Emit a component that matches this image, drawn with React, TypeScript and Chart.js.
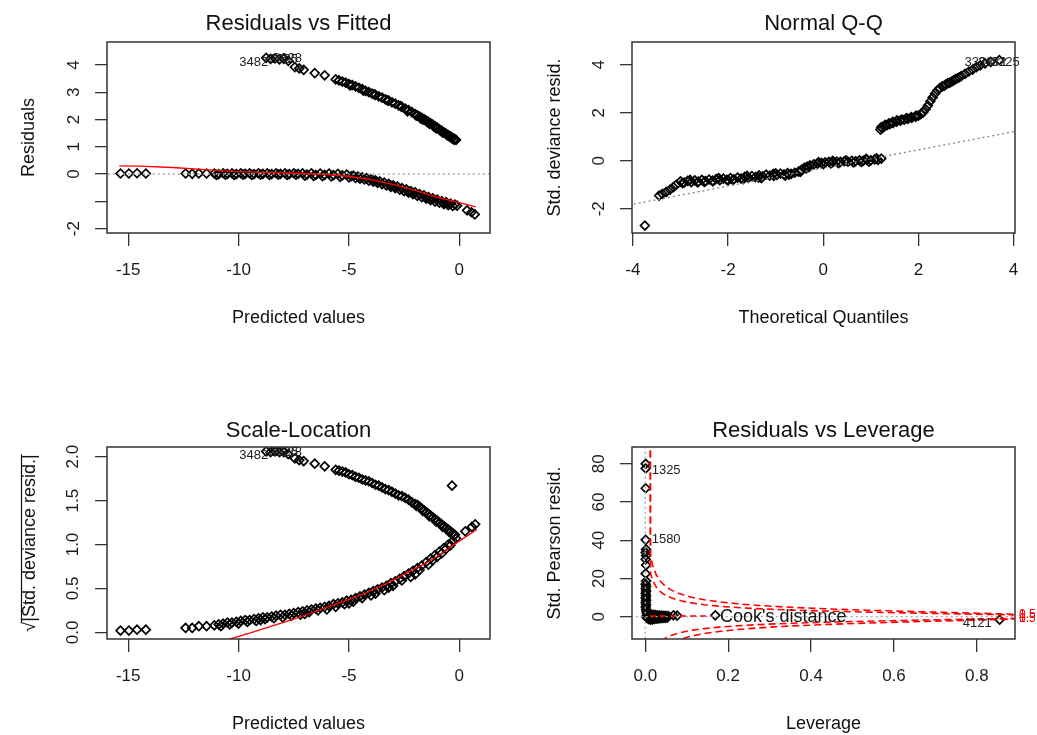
import React, { useEffect, useRef } from 'react';
import { Chart, registerables } from 'chart.js';
Chart.register(...registerables);

const FONT = "'Liberation Sans', Arial, Helvetica, sans-serif";

// ---------------- Panel 1: Residuals vs Fitted ----------------
const rvfUpper: number[][] = [
  [-8.75,4.26],[-8.55,4.22],[-8.35,4.24],[-8.15,4.2],[-7.95,4.22],[-7.75,4.15],[-7.45,3.92],[-7.25,3.87],[-7.05,3.82],
  [-6.55,3.7],[-6.1,3.62],[-5.6,3.47],[-5.45,3.43],[-5.3,3.39],[-5.15,3.35],[-5.0,3.3],[-4.85,3.26],[-4.7,3.21],
  [-4.55,3.16],[-4.4,3.11],[-4.25,3.05],[-4.1,3.0],[-3.95,2.95],[-3.8,2.9],[-3.65,2.85],[-3.5,2.8],[-3.35,2.74],
  [-3.2,2.69],[-3.05,2.63],[-2.9,2.58],[-2.75,2.52],[-2.6,2.46],[-2.45,2.4],[-2.3,2.34],[-2.15,2.27],[-2.0,2.2],
  [-1.9,2.15],[-1.8,2.11],[-1.75,2.04],[-1.7,2.06],[-1.6,2.01],[-1.5,1.96],[-1.45,1.9],[-1.4,1.91],[-1.3,1.86],
  [-1.2,1.81],[-1.15,1.74],[-1.1,1.75],[-1.0,1.7],[-0.9,1.64],[-0.85,1.58],[-0.8,1.59],[-0.7,1.53],[-0.6,1.48],
  [-0.55,1.42],[-0.5,1.43],[-0.4,1.38],[-0.35,1.32],[-0.3,1.33],[-0.25,1.26],[-0.2,1.28],
  [-4.95,3.25],[-4.35,3.06],[-3.85,2.92],[-3.25,2.7],[-2.65,2.49],[-2.35,2.3],[-1.95,2.14],[-1.65,1.99],
  [-1.35,1.84],[-1.05,1.67],[-0.75,1.52],[-0.45,1.37],[-0.15,1.25]
];
const rvfLower: number[][] = [
  [-15.35,0.02],[-14.97,0.02],[-14.6,0.03],[-14.2,0.02],
  [-12.4,0.02],[-12.1,0.01],[-11.8,0.02],[-11.45,0.02],
  [-11.1,0.02],[-10.9,0.0],[-10.7,0.03],[-10.5,0.01],[-10.3,0.03],[-10.1,0.0],[-9.9,0.03],[-9.7,0.01],[-9.5,0.03],
  [-9.3,0.0],[-9.1,0.03],[-8.9,0.01],[-8.7,0.03],[-8.5,0.0],[-8.3,0.03],[-8.1,0.01],[-7.9,0.03],[-7.7,0.0],
  [-7.5,0.03],[-7.3,0.01],[-7.1,0.03],[-6.9,-0.02],[-6.7,0.03],[-6.5,-0.03],[-6.3,0.02],[-6.1,-0.03],[-5.9,0.02],
  [-5.7,-0.04],[-5.5,0.01],[-5.3,-0.05],[-5.1,-0.02],[-4.9,-0.08],
  [-11.0,-0.03],[-10.6,-0.02],[-10.2,-0.03],[-9.8,-0.02],[-9.4,-0.03],[-9.0,-0.02],[-8.6,-0.03],[-8.2,-0.02],
  [-7.8,-0.03],[-7.4,-0.02],[-7.0,-0.06],[-6.6,-0.07],[-6.2,-0.08],[-5.8,-0.09],[-5.4,-0.1],[-5.0,-0.12],
  [-4.8,-0.06],[-4.6,-0.09],[-4.4,-0.12],[-4.2,-0.15],[-4.0,-0.19],[-3.8,-0.23],[-3.6,-0.27],[-3.4,-0.31],
  [-3.2,-0.36],[-3.0,-0.41],[-2.8,-0.46],[-2.6,-0.51],[-2.4,-0.56],[-2.2,-0.62],[-2.0,-0.67],[-1.8,-0.73],
  [-1.6,-0.78],[-1.4,-0.84],[-1.2,-0.89],[-1.0,-0.94],[-0.8,-0.99],[-0.6,-1.03],[-0.4,-1.08],[-0.2,-1.12],
  [-4.7,-0.14],[-4.5,-0.17],[-4.3,-0.2],[-4.1,-0.24],[-3.9,-0.28],[-3.7,-0.32],[-3.5,-0.37],[-3.3,-0.42],
  [-3.1,-0.47],[-2.9,-0.52],[-2.7,-0.57],[-2.5,-0.63],[-2.3,-0.68],[-2.1,-0.74],[-1.9,-0.8],[-1.7,-0.85],
  [-1.5,-0.9],[-1.3,-0.96],[-1.1,-1.01],[-0.9,-1.05],[-0.7,-1.1],[-0.5,-1.14],[-0.3,-1.17],
  [-3.9,-0.24],[-3.1,-0.42],[-2.3,-0.64],[-1.5,-0.86],[-0.7,-1.06],[-0.1,-1.16],
  [-4.55,-0.13],[-3.75,-0.28],[-2.95,-0.47],[-2.15,-0.68],[-1.35,-0.9],[-0.55,-1.09],
  [0.35,-1.33],[0.55,-1.4],[0.7,-1.48]
];
const rvfSmooth: number[][] = [
  [-15.4,0.3],[-14.5,0.29],[-13,0.24],[-11.5,0.16],[-10,0.09],[-8.5,0.05],[-7,0.02],[-6,-0.02],
  [-5,-0.08],[-4,-0.2],[-3,-0.38],[-2,-0.6],[-1,-0.85],[0,-1.05],[0.75,-1.2]
];
const rvfZero: number[][] = [[-20,0],[5,0]];
const rvfXTicks = [-15, -10, -5, 0];
const rvfXTickLabels = ['-15', '-10', '-5', '0'];
const rvfYTicks = [-2, -1, 0, 1, 2, 3, 4];
const rvfYTickLabels = ['-2', '', '0', '1', '2', '3', '4'];

// ---------------- Panel 2: Normal Q-Q ----------------
const qqLower: number[][] = [
  [-3.75,-2.7],
  [-3.45,-1.45],[-3.38,-1.38],[-3.3,-1.3],[-3.22,-1.2],[-3.15,-1.1],[-3.09,-1.0],
  [-3.0,-0.86],[-2.925,-0.91],[-2.85,-0.84],[-2.775,-0.89],[-2.7,-0.82],[-2.625,-0.87],[-2.55,-0.8],[-2.475,-0.85],
  [-2.4,-0.78],[-2.325,-0.83],[-2.25,-0.76],[-2.175,-0.81],[-2.1,-0.74],[-2.025,-0.79],[-1.95,-0.72],[-1.875,-0.77],
  [-1.8,-0.7],[-1.725,-0.74],[-1.65,-0.67],[-1.575,-0.71],[-1.5,-0.64],[-1.425,-0.68],[-1.35,-0.61],[-1.275,-0.65],
  [-1.2,-0.58],[-1.125,-0.62],[-1.05,-0.55],[-0.975,-0.59],[-0.9,-0.53],[-0.825,-0.57],[-0.75,-0.51],[-0.675,-0.55],
  [-0.6,-0.5],[-0.52,-0.45],[-0.46,-0.38],[-0.4,-0.3],[-0.34,-0.24],[-0.28,-0.19],[-0.2,-0.15],[-0.12,-0.12],
  [-0.04,-0.09],[0.04,-0.07],[0.12,-0.05],[0.2,-0.06],[0.28,-0.03],[0.36,-0.05],[0.44,-0.02],[0.52,-0.04],
  [0.6,0.0],[0.68,-0.02],[0.76,0.02],[0.84,0.0],[0.92,0.04],[1.0,0.02],[1.08,0.06],[1.15,0.04],[1.22,0.09],
  [-2.96,-0.93],[-2.64,-0.9],[-2.32,-0.86],[-2.0,-0.82],[-1.68,-0.77],[-1.36,-0.7],[-1.04,-0.63],[-0.72,-0.58],
  [-0.48,-0.46],[-0.3,-0.27],[0.0,-0.14],[0.32,-0.1],[0.64,-0.07],[0.96,-0.04],[-2.8,-0.8],[-2.2,-0.72],
  [-1.6,-0.63],[-1.0,-0.52],[-0.1,-0.06],[0.48,0.02],[1.12,0.1],
  [-2.5,-0.88],[-1.9,-0.8],[-1.3,-0.72],[-0.8,-0.62],[-0.36,-0.32],[0.16,-0.11],[0.8,-0.05],[0.2,0.0],[0.9,0.08]
];
const qqUpper: number[][] = [
  [1.2,1.3],[1.24,1.36],[1.28,1.42],[1.34,1.48],[1.4,1.53],[1.47,1.58],[1.54,1.63],[1.62,1.67],[1.7,1.71],
  [1.78,1.75],[1.86,1.79],[1.94,1.83],[2.0,1.88],[2.05,1.94],[2.1,2.02],[2.15,2.15],[2.2,2.3],[2.25,2.48],
  [2.3,2.64],[2.35,2.8],[2.4,2.94],[2.45,3.03],[2.5,3.1],[2.58,3.18],[2.66,3.26],[2.74,3.35],[2.82,3.44],
  [2.9,3.53],[2.98,3.62],[3.06,3.72],[3.14,3.8],[3.22,3.9],[3.3,3.98],[3.4,4.06],[3.52,4.12],[3.7,4.2],
  [1.22,1.4],[1.3,1.5],[1.38,1.56],[1.46,1.62],[1.55,1.68],[1.65,1.72],[1.75,1.78],[1.85,1.82],[1.95,1.88],
  [2.54,3.12],[2.62,3.24],[2.7,3.3],[2.78,3.4],[2.86,3.48]
];
const qqRefLine: number[][] = [[-4.5,-2.0],[4.5,1.4]];
const qqXTicks = [-4, -2, 0, 2, 4];
const qqXTickLabels = ['-4', '-2', '0', '2', '4'];
const qqYTicks = [-2, 0, 2, 4];
const qqYTickLabels = ['-2', '0', '2', '4'];

// ---------------- Panel 3: Scale-Location ----------------
const slUpper: number[][] = [
  [-8.75,2.06],[-8.55,2.05],[-8.35,2.06],[-8.15,2.05],[-7.95,2.05],[-7.75,2.03],[-7.45,1.98],[-7.25,1.96],[-7.05,1.95],
  [-6.55,1.92],[-6.1,1.89],[-5.6,1.85],[-5.45,1.84],[-5.3,1.83],[-5.15,1.82],[-5.0,1.8],[-4.85,1.79],[-4.7,1.77],
  [-4.55,1.76],[-4.4,1.74],[-4.25,1.73],[-4.1,1.72],[-3.95,1.7],[-3.8,1.68],[-3.65,1.67],[-3.5,1.65],[-3.35,1.63],
  [-3.2,1.62],[-3.05,1.6],[-2.9,1.58],[-2.75,1.56],[-2.6,1.55],[-2.45,1.53],[-2.3,1.51],[-2.15,1.48],[-2.0,1.46],
  [-1.9,1.45],[-1.8,1.43],[-1.7,1.41],[-1.6,1.39],[-1.5,1.37],[-1.4,1.35],[-1.3,1.33],[-1.2,1.31],[-1.1,1.29],
  [-1.0,1.27],[-0.9,1.25],[-0.8,1.23],[-0.7,1.21],[-0.6,1.19],[-0.5,1.17],[-0.4,1.15],[-0.3,1.13],[-0.2,1.11],
  [-1.95,1.44],[-1.65,1.38],[-1.35,1.32],[-1.05,1.26],[-0.75,1.2],[-0.45,1.14],[-0.25,1.1],
  [-0.33,1.67]
];
const slLower: number[][] = [
  [-15.35,0.02],[-14.97,0.02],[-14.6,0.03],[-14.2,0.03],[-12.4,0.05],[-12.1,0.05],[-11.8,0.07],[-11.45,0.07],
  [-11.1,0.08],[-10.9,0.09],[-10.7,0.1],[-10.5,0.11],[-10.3,0.11],[-10.1,0.12],[-9.9,0.13],[-9.7,0.14],[-9.5,0.14],
  [-9.3,0.15],[-9.1,0.16],[-8.9,0.17],[-8.7,0.17],[-8.5,0.18],[-8.3,0.19],[-8.1,0.2],[-7.9,0.2],[-7.7,0.21],
  [-7.5,0.22],[-7.3,0.23],[-7.1,0.24],[-6.9,0.25],[-6.7,0.26],[-6.5,0.27],[-6.3,0.28],[-6.1,0.29],[-5.9,0.3],
  [-5.7,0.32],[-5.5,0.33],[-5.3,0.34],[-5.1,0.36],[-4.9,0.37],[-4.7,0.39],[-4.5,0.41],[-4.3,0.43],[-4.1,0.45],
  [-3.9,0.47],[-3.7,0.49],[-3.5,0.51],[-3.3,0.53],[-3.1,0.56],[-2.9,0.58],[-2.7,0.61],[-2.5,0.64],[-2.3,0.67],
  [-2.1,0.7],[-1.9,0.73],[-1.7,0.76],[-1.5,0.8],[-1.3,0.84],[-1.1,0.88],[-0.9,0.92],[-0.7,0.96],[-0.5,1.0],
  [-0.3,1.04],[-0.15,1.07],
  [-9.0,0.14],[-8.0,0.17],[-7.0,0.21],[-6.0,0.26],[-5.0,0.33],[-4.0,0.42],[-3.0,0.53],[-2.0,0.66],[-1.0,0.86],
  [-10.4,0.09],[-9.6,0.12],[-8.8,0.15],[-7.6,0.19],[-6.4,0.25],[-5.2,0.32],[-4.4,0.39],[-3.4,0.48],[-2.6,0.59],
  [-1.8,0.71],[-1.2,0.82],[-0.6,0.95],
  [-10.8,0.07],[-10.0,0.1],[-9.2,0.13],[-8.4,0.16],[-7.2,0.2],[-6.8,0.23],[-5.6,0.29],[-4.8,0.35],[-3.8,0.44],
  [-3.2,0.51],[-2.2,0.63],[-1.4,0.77],[-0.8,0.9],[-0.4,0.99],
  [0.27,1.15],[0.57,1.2],[0.72,1.23]
];
const slSmooth: number[][] = [
  [-10.45,-0.08],[-9.5,-0.01],[-8.5,0.07],[-7.5,0.15],[-6.5,0.24],[-5.5,0.33],[-4.5,0.42],[-3.5,0.53],
  [-2.5,0.66],[-1.5,0.79],[-0.9,0.88],[-0.3,0.99],[0.3,1.09],[0.8,1.17]
];
const slYTicks = [0, 0.5, 1, 1.5, 2];
const slYTickLabels = ['0.0', '0.5', '1.0', '1.5', '2.0'];

// ---------------- Panel 4: Residuals vs Leverage ----------------
const rvlPoints: number[][] = [
  [0.001,80.0],[0.001,77.6],[0.001,67.2],[0.001,40.2],[0.002,35.2],[0.001,33.6],[0.002,32.0],[0.001,30.0],
  [0.002,27.0],[0.001,22.5],[0.002,18.6],[0.001,17.0],[0.002,15.8],[0.001,14.6],[0.002,13.4],[0.001,12.2],
  [0.002,11.0],[0.001,9.8],[0.002,8.6],[0.001,7.4],[0.002,6.2],[0.001,5.0],[0.002,3.8],[0.003,2.6],[0.004,1.6],
  [0.006,0.8],[0.002,0.0],[0.005,-0.8],[0.009,-1.3],[0.013,-1.6],[0.018,-1.4],[0.023,-1.2],[0.028,-1.0],
  [0.033,-0.9],[0.038,-0.8],[0.043,-0.7],[0.048,-0.6],[0.053,-0.5],[0.01,1.4],[0.015,1.1],[0.02,0.9],
  [0.025,0.8],[0.03,0.7],[0.035,0.6],[0.04,0.5],[0.045,0.4],[0.05,0.4],[0.056,0.3],[0.068,0.7],[0.077,0.5],
  [0.169,0.7],[0.855,-1.6]
];
const cookUpperHalf: number[][] = [
  [0.0115,300],[0.0125,22.7],[0.0178,18.94],[0.0267,15.39],[0.0356,13.27],[0.0445,11.81],[0.0534,10.73],
  [0.0623,9.89],[0.0712,9.21],[0.089,8.16],[0.1068,7.37],[0.1246,6.76],[0.1424,6.26],[0.178,5.48],[0.2225,4.77],
  [0.267,4.22],[0.3115,3.79],[0.356,3.43],[0.445,2.85],[0.534,2.38],[0.623,1.98],[0.712,1.62],[0.801,1.27],[0.89,0.9]
];
const cookUpperOne: number[][] = [
  [0.0115,300],[0.0125,32.1],[0.0178,26.8],[0.0267,21.77],[0.0356,18.77],[0.0445,16.71],[0.0534,15.18],
  [0.0623,13.99],[0.0712,13.02],[0.089,11.54],[0.1068,10.43],[0.1246,9.56],[0.1424,8.85],[0.178,7.75],[0.2225,6.74],
  [0.267,5.97],[0.3115,5.36],[0.356,4.85],[0.445,4.03],[0.534,3.37],[0.623,2.8],[0.712,2.29],[0.801,1.8],[0.89,1.27]
];
const cookLowerHalf: number[][] = [
  [0.0125,-22.7],[0.0178,-18.94],[0.0267,-15.39],[0.0356,-13.27],[0.0445,-11.81],[0.0534,-10.73],
  [0.0623,-9.89],[0.0712,-9.21],[0.089,-8.16],[0.1068,-7.37],[0.1246,-6.76],[0.1424,-6.26],[0.178,-5.48],[0.2225,-4.77],
  [0.267,-4.22],[0.3115,-3.79],[0.356,-3.43],[0.445,-2.85],[0.534,-2.38],[0.623,-1.98],[0.712,-1.62],[0.801,-1.27],[0.89,-0.9]
];
const cookLowerOne: number[][] = [
  [0.0125,-32.1],[0.0178,-26.8],[0.0267,-21.77],[0.0356,-18.77],[0.0445,-16.71],[0.0534,-15.18],
  [0.0623,-13.99],[0.0712,-13.02],[0.089,-11.54],[0.1068,-10.43],[0.1246,-9.56],[0.1424,-8.85],[0.178,-7.75],[0.2225,-6.74],
  [0.267,-5.97],[0.3115,-5.36],[0.356,-4.85],[0.445,-4.03],[0.534,-3.37],[0.623,-2.8],[0.712,-2.29],[0.801,-1.8],[0.89,-1.27]
];
const rvlHZero: number[][] = [[-1,0],[2,0]];
const rvlVZero: number[][] = [[0,-200],[0,200]];
const rvlXTicks = [0, 0.2, 0.4, 0.6, 0.8];
const rvlXTickLabels = ['0.0', '0.2', '0.4', '0.6', '0.8'];
const rvlYTicks = [0, 20, 40, 60, 80];
const rvlYTickLabels = ['0', '20', '40', '60', '80'];
const cookLevelTicks = [-1.27, -0.9, 0.9, 1.27];
const cookLevelLabels = ['1', '0.5', '0.5', '1'];

// ---------------- helpers ----------------
const pts = (arr: number[][]) => arr.map(([x, y]) => ({ x, y }));
const pointDS = (arr: number[][]) => ({
  data: pts(arr), showLine: false, pointStyle: 'rectRot', pointRadius: 4.4, pointBorderWidth: 1.7,
  pointBorderColor: '#000', pointBackgroundColor: 'rgba(0,0,0,0)', borderColor: '#000',
});
const lineDS = (arr: number[][], color: string, width: number, dash: number[]) => ({
  data: pts(arr), showLine: true, borderColor: color, borderWidth: width, borderDash: dash,
  pointRadius: 0, fill: false, tension: 0,
});

function makeConfig(spec: any) {
  const rightW = spec.rightTicks ? 22 : 0;
  const tickFont = { family: FONT, size: 17 };
  const scales: any = {
    x: {
      type: 'linear', min: spec.xMin, max: spec.xMax, bounds: 'data',
      afterBuildTicks: (s: any) => { s.ticks = spec.xTicks.map((v: number) => ({ value: v })); },
      afterFit: (s: any) => { s.height = spec.H - spec.B; },
      ticks: { font: tickFont, color: '#1a1a1a', padding: 14, autoSkip: false, maxRotation: 0, minRotation: 0,
        callback: (_v: any, i: number) => spec.xTickLabels[i] },
      grid: { display: true, drawOnChartArea: false, drawTicks: true, tickLength: 13, color: '#333', lineWidth: 1.3 },
      border: { display: false },
    },
    y: {
      type: 'linear', position: 'left', min: spec.yMin, max: spec.yMax, bounds: 'data',
      afterBuildTicks: (s: any) => { s.ticks = spec.yTicks.map((v: number) => ({ value: v })); },
      afterFit: (s: any) => { s.width = spec.L; },
      ticks: { font: tickFont, color: '#1a1a1a', padding: spec.yPad, autoSkip: false, minRotation: 90, maxRotation: 90,
        crossAlign: 'center', callback: (_v: any, i: number) => spec.yTickLabels[i] },
      grid: { display: true, drawOnChartArea: false, drawTicks: true, tickLength: 12, color: '#333', lineWidth: 1.3 },
      border: { display: false },
    },
  };
  if (spec.rightTicks) {
    scales.yr = {
      type: 'linear', position: 'right', min: spec.yMin, max: spec.yMax, bounds: 'data',
      afterBuildTicks: (s: any) => { s.ticks = spec.rightTicks.map((v: number) => ({ value: v })); },
      afterFit: (s: any) => { s.width = rightW; },
      ticks: { font: { family: FONT, size: 12 }, color: '#ff0000', padding: 4, autoSkip: false,
        callback: (_v: any, i: number) => spec.rightTickLabels[i] },
      grid: { display: false, drawTicks: false },
      border: { display: false },
    };
  }
  const plugin = {
    id: 'rdiag',
    afterDatasetsDraw(chart: any) {
      const { ctx, chartArea: ca, scales: sc } = chart;
      ctx.save();
      ctx.fillStyle = '#222';
      ctx.font = `13px ${FONT}`;
      ctx.textBaseline = 'middle';
      for (const lb of spec.idLabels) {
        const px = sc.x.getPixelForValue(lb.x) + lb.dx;
        const py = sc.y.getPixelForValue(lb.y) + lb.dy;
        ctx.textAlign = lb.align;
        ctx.fillText(lb.text, px, py);
      }
      if (spec.legend) {
        ctx.strokeStyle = '#ff0000';
        ctx.lineWidth = 1.5;
        ctx.setLineDash([6, 4]);
        ctx.beginPath();
        ctx.moveTo(ca.left + 18, ca.bottom - 23);
        ctx.lineTo(ca.left + 80, ca.bottom - 23);
        ctx.stroke();
        ctx.setLineDash([]);
        ctx.fillStyle = '#111';
        ctx.font = `18px ${FONT}`;
        ctx.textAlign = 'left';
        ctx.textBaseline = 'alphabetic';
        ctx.fillText(spec.legend, ca.left + 88, ca.bottom - 17);
      }
      ctx.restore();
    },
    afterDraw(chart: any) {
      const { ctx, chartArea: ca } = chart;
      ctx.save();
      ctx.strokeStyle = '#333';
      ctx.lineWidth = 1.5;
      ctx.strokeRect(ca.left, ca.top, ca.right - ca.left, ca.bottom - ca.top);
      ctx.fillStyle = '#111';
      ctx.textAlign = 'center';
      ctx.textBaseline = 'alphabetic';
      const cx = (ca.left + ca.right) / 2;
      ctx.font = `22px ${FONT}`;
      ctx.fillText(spec.title, cx, spec.titleY);
      ctx.font = `18px ${FONT}`;
      ctx.fillText(spec.xTitle, cx, spec.xTitleY);
      ctx.translate(spec.yTitleX, (ca.top + ca.bottom) / 2);
      ctx.rotate(-Math.PI / 2);
      ctx.fillText(spec.yTitle, 0, 0);
      if (spec.sqrtBar) {
        const w = ctx.measureText(spec.yTitle).width;
        const sw = ctx.measureText('\u221A').width;
        ctx.strokeStyle = '#111';
        ctx.lineWidth = 1.2;
        ctx.beginPath();
        ctx.moveTo(-w / 2 + sw - 1, -13.5);
        ctx.lineTo(w / 2, -13.5);
        ctx.stroke();
      }
      ctx.restore();
    },
  };
  return {
    type: 'scatter',
    data: { datasets: spec.datasets },
    options: {
      responsive: false, animation: false, events: [],
      layout: { padding: { left: 0, top: spec.T, right: spec.W - spec.R - rightW, bottom: 0 } },
      plugins: { legend: { display: false }, tooltip: { enabled: false }, title: { display: false } },
      scales,
    },
    plugins: [plugin],
  };
}

const SPECS: any[] = [
  {
    left: 0, top: 0, W: 517, H: 367, L: 107, T: 42, R: 490, B: 233,
    xMin: -15.96, xMax: 1.39, yMin: -2.16, yMax: 4.84,
    xTicks: rvfXTicks, xTickLabels: rvfXTickLabels, yTicks: rvfYTicks, yTickLabels: rvfYTickLabels, yPad: 13,
    title: 'Residuals vs Fitted', titleY: 30, xTitle: 'Predicted values', xTitleY: 323,
    yTitle: 'Residuals', yTitleX: 34,
    datasets: [lineDS(rvfSmooth, '#ff0000', 1.3, []), lineDS(rvfZero, '#a8a8a8', 1.4, [2, 3]), pointDS(rvfUpper), pointDS(rvfLower)],
    idLabels: [
      { x: -8.75, y: 4.26, text: '3482', align: 'right', dx: 2, dy: 5 },
      { x: -8.75, y: 4.26, text: '3325', align: 'left', dx: 3, dy: 2 },
      { x: -8.75, y: 4.26, text: '3328', align: 'left', dx: 7, dy: 1 },
    ],
  },
  {
    left: 517, top: 0, W: 520, H: 367, L: 115, T: 42, R: 498, B: 233,
    xMin: -4.02, xMax: 4.03, yMin: -3.01, yMax: 4.95,
    xTicks: qqXTicks, xTickLabels: qqXTickLabels, yTicks: qqYTicks, yTickLabels: qqYTickLabels, yPad: 13,
    title: 'Normal Q-Q', titleY: 30, xTitle: 'Theoretical Quantiles', xTitleY: 323,
    yTitle: 'Std. deviance resid.', yTitleX: 43,
    datasets: [lineDS(qqRefLine, '#8c8c8c', 1.4, [2, 3]), pointDS(qqLower), pointDS(qqUpper)],
    idLabels: [
      { x: 2.97, y: 4.1, text: '3328', align: 'left', dx: 0, dy: 0 },
      { x: 3.25, y: 4.1, text: '3482', align: 'left', dx: 0, dy: 0 },
      { x: 3.52, y: 4.1, text: '3325', align: 'left', dx: 0, dy: 0 },
    ],
  },
  {
    left: 0, top: 367, W: 517, H: 368, L: 107, T: 80, R: 490, B: 272,
    xMin: -15.96, xMax: 1.39, yMin: -0.076, yMax: 2.11,
    xTicks: rvfXTicks, xTickLabels: rvfXTickLabels, yTicks: slYTicks, yTickLabels: slYTickLabels, yPad: 10,
    title: 'Scale-Location', titleY: 70, xTitle: 'Predicted values', xTitleY: 362,
    yTitle: '\u221A|Std. deviance resid.|', yTitleX: 35, sqrtBar: true,
    datasets: [lineDS(slSmooth, '#ff0000', 1.3, []), pointDS(slUpper), pointDS(slLower)],
    idLabels: [
      { x: -8.75, y: 2.06, text: '3482', align: 'right', dx: 2, dy: 4 },
      { x: -8.75, y: 2.06, text: '3325', align: 'left', dx: 3, dy: 1 },
      { x: -8.75, y: 2.06, text: '3328', align: 'left', dx: 7, dy: 1 },
    ],
  },
  {
    left: 517, top: 367, W: 520, H: 368, L: 115, T: 80, R: 498, B: 272,
    xMin: -0.032, xMax: 0.892, yMin: -11.7, yMax: 88.8,
    xTicks: rvlXTicks, xTickLabels: rvlXTickLabels, yTicks: rvlYTicks, yTickLabels: rvlYTickLabels, yPad: 11,
    rightTicks: cookLevelTicks, rightTickLabels: cookLevelLabels,
    title: 'Residuals vs Leverage', titleY: 70, xTitle: 'Leverage', xTitleY: 362,
    yTitle: 'Std. Pearson resid.', yTitleX: 43,
    legend: "Cook's distance",
    datasets: [
      lineDS(cookUpperHalf, '#ff0000', 1.6, [7, 4]), lineDS(cookUpperOne, '#ff0000', 1.6, [7, 4]),
      lineDS(cookLowerHalf, '#ff0000', 1.6, [7, 4]), lineDS(cookLowerOne, '#ff0000', 1.6, [7, 4]),
      lineDS(rvlHZero, '#a8a8a8', 1.4, [2, 3]), lineDS(rvlVZero, '#a8a8a8', 1.4, [2, 3]),
      pointDS(rvlPoints),
    ],
    idLabels: [
      { x: 0.001, y: 77.6, text: '1325', align: 'left', dx: 6, dy: 2 },
      { x: 0.001, y: 40.2, text: '1580', align: 'left', dx: 6, dy: 0 },
      { x: 0.855, y: -1.6, text: '4121', align: 'right', dx: -8, dy: 4 },
    ],
  },
];

function Panel({ spec }: { spec: any }) {
  const ref = useRef<HTMLCanvasElement>(null);
  useEffect(() => {
    if (!ref.current) return;
    const chart = new Chart(ref.current, makeConfig(spec) as any);
    return () => chart.destroy();
  }, [spec]);
  return (
    <canvas
      ref={ref}
      width={spec.W}
      height={spec.H}
      style={{ position: 'absolute', left: spec.left, top: spec.top, width: spec.W, height: spec.H }}
    />
  );
}

export default function App() {
  return (
    <div style={{ position: 'absolute', left: 0, top: 0, width: 1037, height: 735, background: '#fff', overflow: 'hidden' }}>
      {SPECS.map((s, i) => <Panel key={i} spec={s} />)}
    </div>
  );
}
